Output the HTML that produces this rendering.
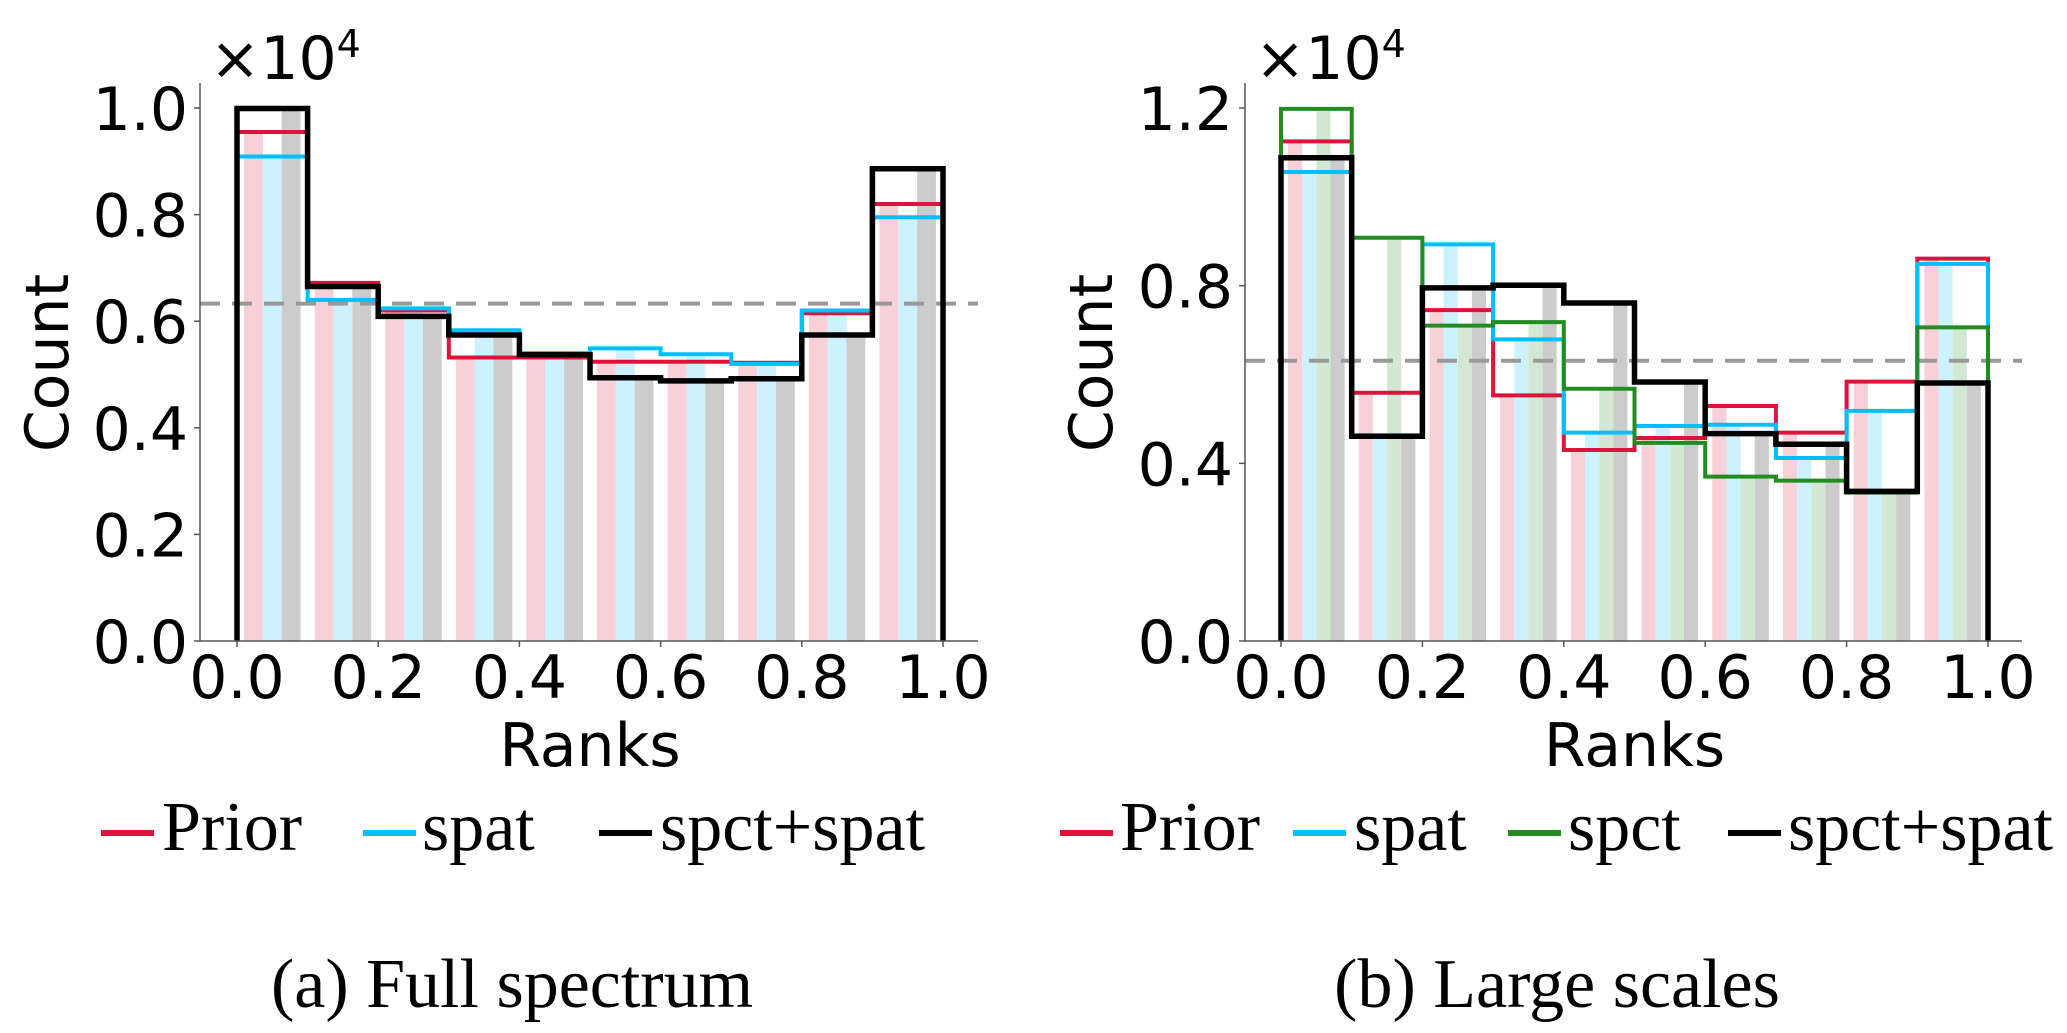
<!DOCTYPE html>
<html><head><meta charset="utf-8">
<style>
html,body{margin:0;padding:0;background:#fff;}
svg{display:block;}
.tick{font-family:"DejaVu Sans",sans-serif;font-size:60px;fill:#000;}
.leg{font-family:"Liberation Serif",serif;font-size:70px;fill:#000;}
</style></head>
<body>
<svg id="chart" width="2067" height="1033" viewBox="0 0 2067 1033" xmlns="http://www.w3.org/2000/svg"></svg>
<script>
// ---- data ----
const binEdges = [0,0.1,0.2,0.3,0.4,0.5,0.6,0.7,0.8,0.9,1.0];
const xTicks = [0,0.2,0.4,0.6,0.8,1.0];
const xTickLabels = ["0.0","0.2","0.4","0.6","0.8","1.0"];
const yTicksA = [0,0.2,0.4,0.6,0.8,1.0];
const yTickLabelsA = ["0.0","0.2","0.4","0.6","0.8","1.0"];
const yTicksB = [0,0.4,0.8,1.2];
const yTickLabelsB = ["0.0","0.4","0.8","1.2"];
const priorA = [0.955,0.672,0.62,0.532,0.532,0.524,0.524,0.522,0.615,0.82];
const spatA  = [0.909,0.64,0.624,0.583,0.54,0.549,0.538,0.52,0.62,0.795];
const bothA  = [0.999,0.665,0.609,0.574,0.537,0.494,0.488,0.492,0.574,0.886];
const refA = 0.633;
const priorB = [1.125,0.559,0.745,0.553,0.43,0.457,0.529,0.469,0.584,0.861];
const spatB  = [1.056,0.463,0.893,0.679,0.469,0.484,0.487,0.412,0.518,0.849];
const spctB  = [1.198,0.908,0.71,0.718,0.568,0.446,0.37,0.361,0.334,0.706];
const bothB  = [1.088,0.461,0.795,0.801,0.761,0.583,0.467,0.443,0.337,0.581];
const refB = 0.631;

const NS="http://www.w3.org/2000/svg";
const svg=document.getElementById('chart');
function mk(tag,attrs,parent){const e=document.createElementNS(NS,tag);for(const k in attrs)e.setAttribute(k,attrs[k]);(parent||svg).appendChild(e);return e;}

function panel(cfg){
  const g=mk('g',{});
  
  
  const sx=v=>cfg.x0+(cfg.x1-cfg.x0)*v;
  const sy=v=>cfg.y0-(cfg.y0-cfg.yTop)*v/cfg.yTopVal;
  const n=cfg.series.length;
  for(let b=0;b<binEdges.length-1;b++){
    const bl=sx(binEdges[b]), bw=sx(binEdges[b+1])-bl;
    const total=bw*0.8, each=total/n, off=bw*0.1;
    cfg.series.forEach((s,i)=>{
      const r=mk('rect',{x:bl+off+i*each,y:sy(s.vals[b]),width:each,height:cfg.y0-sy(s.vals[b]),fill:s.fade},g);
      
      
    });
  }
  const d=mk('line',{x1:cfg.spL,x2:cfg.spR,y1:sy(cfg.ref),y2:sy(cfg.ref),stroke:'#999',"stroke-width":4,"stroke-dasharray":"20 12"},g);
  
  
  cfg.series.forEach(s=>{
    let p='M'+sx(binEdges[0])+','+cfg.y0;
    for(let b=0;b<binEdges.length-1;b++){p+=' L'+sx(binEdges[b])+','+sy(s.vals[b])+' L'+sx(binEdges[b+1])+','+sy(s.vals[b]);}
    p+=' L'+sx(binEdges[binEdges.length-1])+','+cfg.y0;
    const pe=mk('path',{d:p,fill:'none',stroke:s.color,"stroke-width":s.w,"stroke-linejoin":"miter"},g);
    
    
  });
  const sl=mk('line',{x1:cfg.spL,x2:cfg.spL,y1:cfg.spTop,y2:cfg.y0,stroke:'#555',"stroke-width":1.5},g);
  
  
  const sb=mk('line',{x1:cfg.spL,x2:cfg.spR,y1:cfg.y0,y2:cfg.y0,stroke:'#555',"stroke-width":1.5},g);
  
  
  xTicks.forEach((t,i)=>{
    mk('line',{x1:sx(t),x2:sx(t),y1:cfg.y0,y2:cfg.y0+6,stroke:'#555',"stroke-width":1.5},g);
    const tx=mk('text',{x:sx(t),y:cfg.y0+57,"text-anchor":"middle",class:'tick'},g);
    tx.textContent=xTickLabels[i];
    
    
  });
  cfg.yTicks.forEach((t,i)=>{
    mk('line',{x1:cfg.spL-6,x2:cfg.spL,y1:sy(t),y2:sy(t),stroke:'#555',"stroke-width":1.5},g);
    const tx=mk('text',{x:cfg.spL-12,y:sy(t)+22,"text-anchor":"end",class:'tick'},g);
    tx.textContent=cfg.yLabels[i];
    
    
  });
  const xl=mk('text',{x:(cfg.x0+cfg.x1)/2,y:cfg.y0+125,"text-anchor":"middle",class:'tick'},g);
  xl.textContent='Ranks';
  
  
  const yl=mk('text',{x:0,y:0,"text-anchor":"middle",class:'tick',transform:'translate('+(cfg.yLabX)+',363) rotate(-90)'},g);
  yl.textContent='Count';
  
  
  const off=mk('text',{x:cfg.spL+10,y:79,class:'tick',"font-size":"54"},g);
  off.innerHTML='×10<tspan dy="-22" font-size="38">4</tspan>';
  
  
  cfg.legend.forEach(l=>{
    const lg=mk('g',{},g);
    
    
    mk('line',{x1:l.lx,x2:l.lx+53,y1:833,y2:833,stroke:l.color,"stroke-width":6},lg);
    const t=mk('text',{x:l.tx,y:850,class:'leg'},lg);
    t.textContent=l.label;
  });
  const cap=mk('text',{x:cfg.capX,y:1007,"text-anchor":"middle",class:'leg',"font-size":"79"},g);
  cap.textContent=cfg.caption;
  
  
}

panel({name:'panel-full-spectrum',x0:237,x1:943,y0:641,yTop:108,yTopVal:1.0,spL:200,spR:978,spTop:83,
  yTicks:yTicksA,yLabels:yTickLabelsA,ref:refA,yLabX:68,
  series:[{key:'prior',vals:priorA,color:'#dc143c',fade:'#f7d0d8',w:4},
          {key:'spat',vals:spatA,color:'#00bfff',fade:'#ccf2ff',w:4},
          {key:'spct-spat',vals:bothA,color:'#000',fade:'#cccccc',w:5.5}],
  legend:[{key:'prior',label:'Prior',color:'#dc143c',lx:101,tx:162},
          {key:'spat',label:'spat',color:'#00bfff',lx:363,tx:422},
          {key:'spct-spat',label:'spct+spat',color:'#000',lx:599,tx:660}],
  capX:512,caption:'(a) Full spectrum'});

panel({name:'panel-large-scales',x0:1281,x1:1988,y0:641,yTop:108,yTopVal:1.2,spL:1245,spR:2022,spTop:83,
  yTicks:yTicksB,yLabels:yTickLabelsB,ref:refB,yLabX:1112,
  series:[{key:'prior',vals:priorB,color:'#dc143c',fade:'#f7d0d8',w:4},
          {key:'spat',vals:spatB,color:'#00bfff',fade:'#ccf2ff',w:4},
          {key:'spct',vals:spctB,color:'#228b22',fade:'#d3e8d3',w:4},
          {key:'spct-spat',vals:bothB,color:'#000',fade:'#cccccc',w:5.5}],
  legend:[{key:'prior',label:'Prior',color:'#dc143c',lx:1060,tx:1120},
          {key:'spat',label:'spat',color:'#00bfff',lx:1293,tx:1354},
          {key:'spct',label:'spct',color:'#228b22',lx:1508,tx:1568},
          {key:'spct-spat',label:'spct+spat',color:'#000',lx:1728,tx:1788}],
  capX:1557,caption:'(b) Large scales'});
</script>
</body></html>
